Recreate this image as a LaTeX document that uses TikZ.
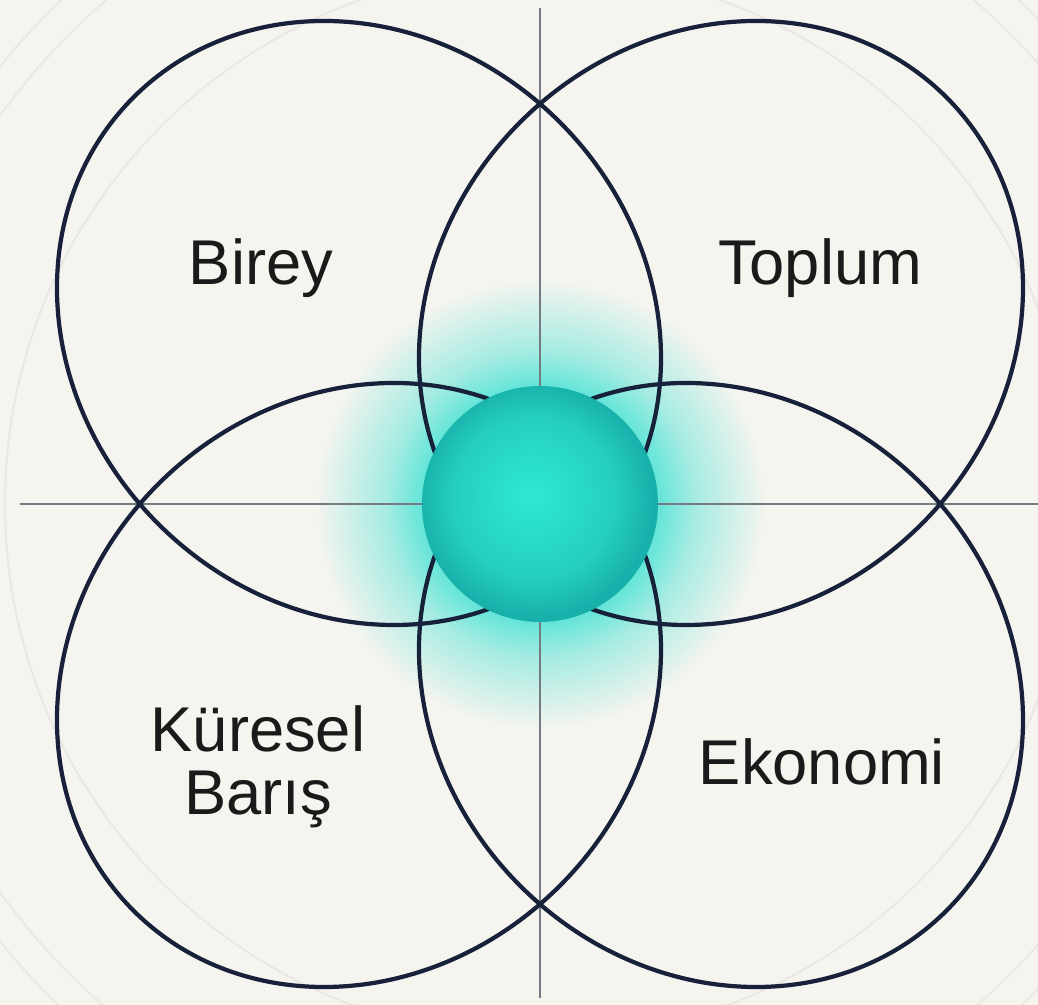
\documentclass[tikz,border=0pt]{standalone}
\usepackage{fontspec}
\setmainfont{Liberation Sans}
\definecolor{vennpaper}{HTML}{F5F4EF}
\definecolor{vennnavy}{HTML}{17213A}
\definecolor{venngrid}{HTML}{767B83}
\definecolor{vennfaint}{HTML}{E9E8E3}
\definecolor{vennglow}{HTML}{52E3D5}
\definecolor{vennlight}{HTML}{2EE8D5}
\definecolor{venndeep}{HTML}{18B0AA}
\definecolor{venntext}{HTML}{1A1A1A}
\colorlet{vennhalo}{vennglow!50!vennpaper}
\colorlet{vennmid}{vennlight!55!venndeep}
\pgfdeclareradialshading{glowshade}{\pgfpoint{0bp}{0bp}}{color(0bp)=(vennglow); color(12bp)=(vennglow); color(17bp)=(vennhalo); color(25bp)=(vennpaper); color(50bp)=(vennpaper)}
\pgfdeclareradialshading{sphereshade}{\pgfpoint{-2bp}{2bp}}{color(0bp)=(vennlight); color(17bp)=(vennmid); color(25bp)=(venndeep); color(50bp)=(venndeep)}

\begin{document}
\begin{tikzpicture}[
    ring/.style={draw=vennnavy, line width=1.2pt},
    axis/.style={draw=venngrid, line width=0.8pt},
    faint/.style={draw=vennfaint, line width=0.6pt},
    lbl/.style={font=\fontsize{18}{18}\selectfont, text=venntext, anchor=base, align=center},
  ]
  % Paper and frame
  \path[use as bounding box, fill=vennpaper] (-5.40,-5.01) rectangle (4.98,5.04);
  \coordinate (o) at (0,0);

  % Faint rings in the background
  \begin{scope}
    \clip (-5.40,-5.01) rectangle (4.98,5.04);
    \foreach \r in {5.35,6.65,6.95}
      \draw[faint] (o) circle (\r);
  \end{scope}

  % Glow round the centre
  \shade[shading=glowshade] (o) circle (2.25);

  % Cross lines
  \coordinate (vtop) at (0,4.96);
  \coordinate (vbot) at (0,-4.94);
  \coordinate (hleft) at (-5.20,0);
  \coordinate (hright) at (4.98,0);
  \draw[axis] (vtop) -- (vbot);
  \draw[axis] (hleft) -- (hright);

  % Four overlapping rings
  \foreach \cx/\cy/\ang in {-1.81/1.81/135, 1.81/1.81/45, -1.81/-1.81/45, 1.81/-1.81/135}
    \draw[ring] (\cx,\cy) ellipse [x radius=3.19, y radius=2.84, rotate=\ang];

  % Centre sphere
  \node[circle, minimum size=2.36cm, inner sep=0pt, shading=sphereshade] (core) at (o) {};

  % Labels
  \node[lbl] (birey) at (-2.79,2.19) {Birey};
  \node[lbl] (toplum) at (2.80,2.19) {Toplum};
  \node[lbl] (kuresel) at (-2.82,-3.11) {Küresel\\Barış};
  \node[lbl] (ekonomi) at (2.82,-2.81) {Ekonomi};
\end{tikzpicture}
\end{document}
